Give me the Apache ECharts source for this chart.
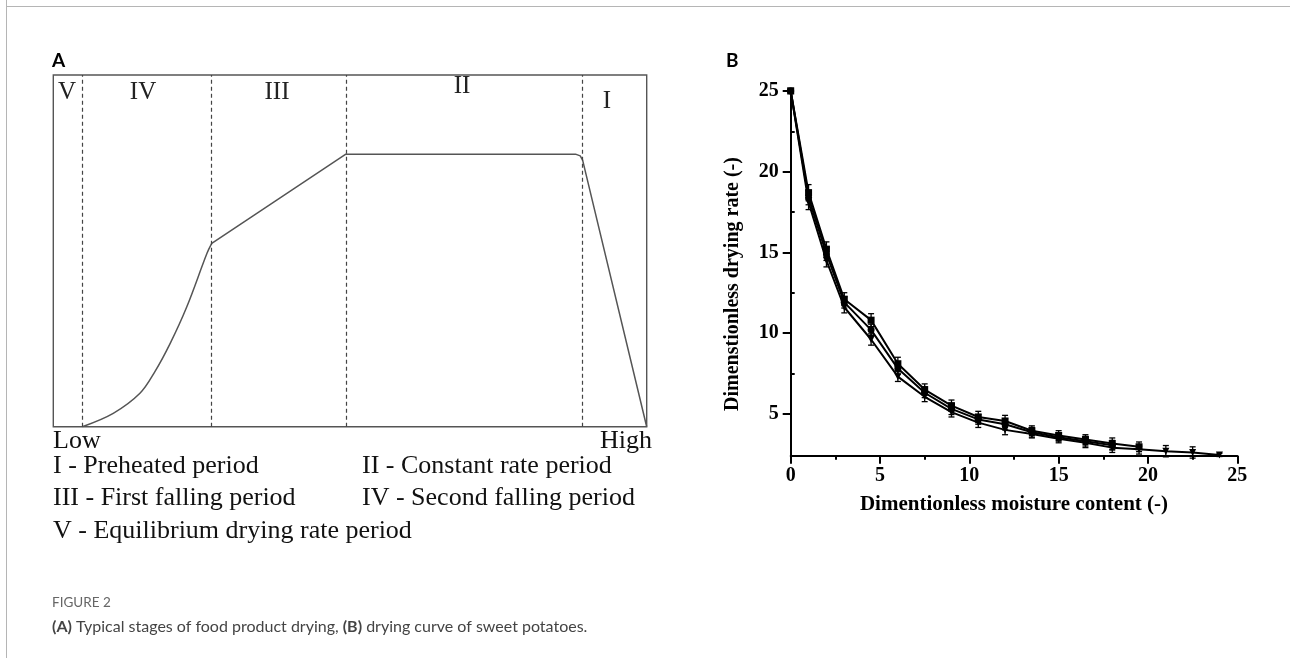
<!DOCTYPE html>
<html><head><meta charset="utf-8">
<script src="https://cdn.jsdelivr.net/npm/echarts@6/dist/echarts.min.js"></script>
<style>html,body{margin:0;padding:0;background:#fff;}#c{width:1290px;height:658px;}</style>
</head><body><div id="c"></div>
<script>
// ---------- Panel A data ----------
const stageNames = ['V', 'IV', 'III', 'II', 'I'];
const stageBounds = [4.9, 26.7, 49.3, 89.2];
const riseCurveX = [4.9, 10.1, 14.6, 17.1, 19.7, 22.5, 25.9, 26.7];
const riseCurveY = [0, 3.8, 9.5, 15.6, 23.7, 34.1, 49.3, 52.1];
const restCurveX = [26.7, 49.3, 88.0, 88.8, 89.2, 100];
const restCurveY = [52.1, 77.5, 77.5, 77.0, 75.8, 0];
const axisEnds = ['Low', 'High'];
const stageLegend = ['I - Preheated period', 'II - Constant rate period', 'III - First falling period', 'IV - Second falling period', 'V - Equilibrium drying rate period'];

// ---------- Panel B data ----------
const sqX = [0, 1, 2, 3, 4.5, 6, 7.5, 9, 10.5, 12, 13.5, 15, 16.5, 18, 19.5];
const sqY = [25, 18.7, 15.2, 12.1, 10.8, 8.1, 6.5, 5.5, 4.8, 4.55, 3.95, 3.65, 3.4, 3.15, 2.95];
const sqE = [0.1, 0.5, 0.45, 0.4, 0.4, 0.4, 0.35, 0.35, 0.35, 0.35, 0.3, 0.3, 0.3, 0.35, 0.3];
const ciX = [0, 1, 2, 3, 4.5, 6, 7.5, 9, 10.5, 12, 13.5, 15, 16.5, 18];
const ciY = [25, 18.4, 14.9, 11.9, 10.2, 7.8, 6.3, 5.3, 4.65, 4.35, 3.85, 3.55, 3.3, 3.05];
const ciE = [0.1, 0.45, 0.4, 0.35, 0.35, 0.35, 0.3, 0.35, 0.3, 0.35, 0.3, 0.25, 0.3, 0.3];
const trX = [0, 1, 2, 3, 4.5, 6, 7.5, 9, 10.5, 12, 13.5, 15, 16.5, 18, 19.5, 21, 22.5, 24];
const trY = [25, 18.1, 14.5, 11.6, 9.6, 7.3, 6.05, 5.1, 4.45, 4.0, 3.75, 3.45, 3.2, 2.9, 2.8, 2.68, 2.6, 2.45];
const trE = [0.1, 0.45, 0.4, 0.35, 0.35, 0.3, 0.3, 0.3, 0.3, 0.3, 0.25, 0.25, 0.3, 0.3, 0.3, 0.35, 0.35, 0.1];
const yTicks = [5, 10, 15, 20, 25];
const yMinorTicks = [7.5, 12.5, 17.5, 22.5];
const xName = 'Dimentionless moisture content (-)';
const yName = 'Dimenstionless drying rate (-)';

const zip = (a, b) => a.map((v, i) => [v, b[i]]);
const zip3 = (a, b, c) => a.map((v, i) => [v, b[i], c[i]]);

const serif = 'Liberation Serif';
function errRender(params, api) {
  const x = api.value(0), y = api.value(1), e = api.value(2);
  const t = api.coord([x, y + e]), b = api.coord([x, y - e]);
  const cw = 3, st = { stroke: '#000', lineWidth: 1.3 };
  return { type: 'group', children: [
    { type: 'line', shape: { x1: t[0], y1: t[1], x2: b[0], y2: b[1] }, style: st },
    { type: 'line', shape: { x1: t[0] - cw, y1: t[1], x2: t[0] + cw, y2: t[1] }, style: st },
    { type: 'line', shape: { x1: b[0] - cw, y1: b[1], x2: b[0] + cw, y2: b[1] }, style: st }
  ] };
}
function bSeries(xs, ys, es, symbol, rot) {
  return [
    { type: 'custom', xAxisIndex: 1, yAxisIndex: 1, renderItem: errRender, data: zip3(xs, ys, es), encode: { x: 0, y: 1 }, z: 3 },
    { type: 'line', xAxisIndex: 1, yAxisIndex: 1, data: zip(xs, ys), symbol: symbol, symbolRotate: rot, symbolSize: 7,
      itemStyle: { color: '#000' }, lineStyle: { color: '#000', width: 2 }, z: 4 }
  ];
}

const stagePos = [[67, 92], [143, 92], [277, 92], [462, 86], [607, 101]];
const graphics = [];
graphics.push({ type: 'line', shape: { x1: 6.5, y1: 0, x2: 6.5, y2: 658 }, style: { stroke: '#b5b5b5', lineWidth: 1 } });
graphics.push({ type: 'line', shape: { x1: 6, y1: 6.5, x2: 1290, y2: 6.5 }, style: { stroke: '#b5b5b5', lineWidth: 1 } });
graphics.push({ type: 'text', x: 52, y: 61, style: { text: 'A', fontFamily: 'Lato', fontWeight: 'bold', fontSize: 19, fill: '#000', verticalAlign: 'middle' } });
graphics.push({ type: 'text', x: 726, y: 61, style: { text: 'B', fontFamily: 'Lato', fontWeight: 'bold', fontSize: 19, fill: '#000', verticalAlign: 'middle' } });
stageNames.forEach((s, i) => {
  graphics.push({ type: 'text', x: stagePos[i][0], y: stagePos[i][1], style: { text: s, fontFamily: serif, fontSize: 25, fill: '#222', align: 'center', verticalAlign: 'middle' } });
});
graphics.push({ type: 'text', x: 53, y: 441, style: { text: axisEnds[0], fontFamily: serif, fontSize: 26, fill: '#111', align: 'left', verticalAlign: 'middle' } });
graphics.push({ type: 'text', x: 652, y: 441, style: { text: axisEnds[1], fontFamily: serif, fontSize: 26, fill: '#111', align: 'right', verticalAlign: 'middle' } });
const legPos = [[53, 466], [362, 466], [53, 498], [362, 498], [53, 531]];
stageLegend.forEach((s, i) => {
  graphics.push({ type: 'text', x: legPos[i][0], y: legPos[i][1], style: { text: s, fontFamily: serif, fontSize: 26, fill: '#111', align: 'left', verticalAlign: 'middle' } });
});
graphics.push({ type: 'text', x: 733, y: 284, rotation: Math.PI / 2, style: { text: yName, fontFamily: serif, fontWeight: 'bold', fontSize: 20, fill: '#000', align: 'center', verticalAlign: 'middle' } });
graphics.push({ type: 'text', x: 52, y: 603, style: { text: 'FIGURE 2', fontFamily: 'Lato', fontSize: 13.5, fill: '#666', align: 'left', verticalAlign: 'middle' } });
graphics.push({ type: 'text', x: 52, y: 627, style: {
  text: '{b|(A)} Typical stages of food product drying, {b|(B)} drying curve of sweet potatoes.',
  fontFamily: 'Lato', fontSize: 16, fill: '#444', align: 'left', verticalAlign: 'middle',
  rich: { b: { fontFamily: 'Lato', fontWeight: 'bold', fontSize: 16, fill: '#444' } } } });

const axisTxt = { fontFamily: serif, fontWeight: 'bold', fontSize: 20, color: '#000' };
const option = {
  animation: false,
  backgroundColor: '#fff',
  grid: [
    { left: 53.3, top: 75, width: 593.4, height: 351.7, show: true, borderColor: '#555', borderWidth: 1.4, backgroundColor: 'transparent' },
    { left: 790.7, top: 91, width: 446.6, height: 364.7 }
  ],
  xAxis: [
    { type: 'value', gridIndex: 0, min: 0, max: 100, show: false },
    { type: 'value', gridIndex: 1, min: 0, max: 25, interval: 5,
      axisLine: { show: true, onZero: false, lineStyle: { color: '#000', width: 2 } },
      axisTick: { show: true, length: 8, lineStyle: { color: '#000', width: 2 } },
      minorTick: { show: true, splitNumber: 2, length: 4, lineStyle: { color: '#000', width: 2 } },
      splitLine: { show: false },
      axisLabel: Object.assign({ margin: 10 }, axisTxt),
      name: xName, nameLocation: 'middle', nameGap: 38,
      nameTextStyle: { fontFamily: serif, fontWeight: 'bold', fontSize: 21, color: '#000' } }
  ],
  yAxis: [
    { type: 'value', gridIndex: 0, min: 0, max: 100, show: false },
    { type: 'value', gridIndex: 1, min: 2.4, max: 25,
      axisLine: { show: true, onZero: false, lineStyle: { color: '#000', width: 2 } },
      axisTick: { show: true, length: 8, customValues: yTicks, lineStyle: { color: '#000', width: 2 } },
      splitLine: { show: false },
      axisLabel: Object.assign({ margin: 12, customValues: yTicks }, axisTxt) },
    { type: 'value', gridIndex: 1, min: 2.4, max: 25,
      axisLine: { show: false },
      axisTick: { show: true, length: 4, customValues: yMinorTicks, lineStyle: { color: '#000', width: 2 } },
      axisLabel: { show: false }, splitLine: { show: false } }
  ],
  graphic: graphics,
  series: [
    { type: 'line', xAxisIndex: 0, yAxisIndex: 0, data: zip(riseCurveX, riseCurveY), smooth: 0.35, symbol: 'none',
      lineStyle: { color: '#555', width: 1.5 },
      markLine: { silent: true, symbol: 'none', label: { show: false },
        lineStyle: { type: [4, 3], color: '#444', width: 1.2 },
        data: stageBounds.map(v => ({ xAxis: v })) } },
    { type: 'line', xAxisIndex: 0, yAxisIndex: 0, data: zip(restCurveX, restCurveY), symbol: 'none',
      lineStyle: { color: '#555', width: 1.5 } },
    ...bSeries(sqX, sqY, sqE, 'rect', 0),
    ...bSeries(ciX, ciY, ciE, 'circle', 0),
    ...bSeries(trX, trY, trE, 'triangle', 180)
  ]
};
const chart = echarts.init(document.getElementById('c'), null, { renderer: 'canvas' });
chart.setOption(option);
</script></body></html>
